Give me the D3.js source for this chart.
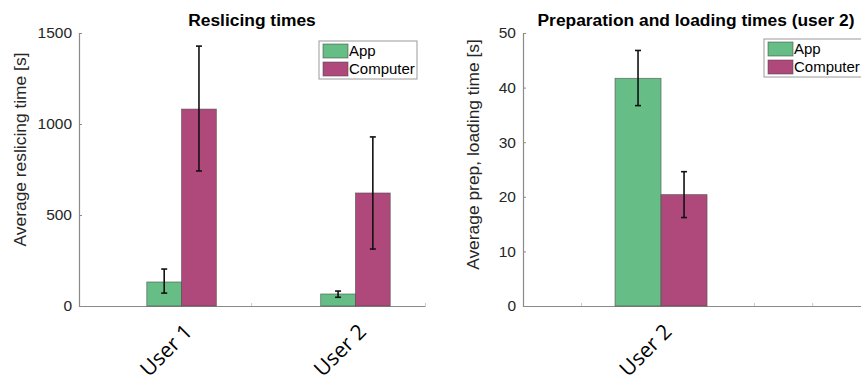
<!DOCTYPE html>
<html>
<head>
<meta charset="utf-8">
<script src="https://cdn.jsdelivr.net/npm/d3@7"></script>
<style>
  body { margin: 0; background: #fff; }
  svg { display: block; }
  .tick text { font-family: "Liberation Sans", Arial, sans-serif; }
</style>
</head>
<body>
<svg id="chart"></svg>
<script>
// left panel: reslicing times
const users = ["User 1", "User 2"];
const userPos = [1, 2];
const appReslice = [132, 66];
const appResliceLo = [71, 48];
const appResliceHi = [203, 82];
const compReslice = [1082, 621];
const compResliceLo = [742, 313];
const compResliceHi = [1428, 929];
const resliceTicks = [0, 500, 1000, 1500];

// right panel: prep and loading (user 2)
const prepUsers = ["User 2"];
const prepPos = [1];
const appPrep = [41.7];
const appPrepLo = [36.7];
const appPrepHi = [46.8];
const compPrep = [20.4];
const compPrepLo = [16.2];
const compPrepHi = [24.6];
const prepTicks = [0, 10, 20, 30, 40, 50];

const legendKeys = ["App", "Computer"];
const colors = ["#66bd86", "#b0497b"];

var svg = d3.select("#chart")
  .attr("width", 861)
  .attr("height", 382);

function drawPanel(cfg) {
  var x = d3.scaleLinear().domain(cfg.xDomain).range(cfg.xRange);
  var y = d3.scaleLinear().domain(cfg.yDomain).range([306, 33]);
  var g = svg.append("g");
  var halfW = 0.2;

  // y axis
  var yAxis = g.append("g")
    .attr("transform", `translate(${cfg.xRange[0]},0)`)
    .call(d3.axisRight(y).tickValues(cfg.yTicks).tickSize(3).tickFormat(d3.format("d")));
  yAxis.select(".domain").attr("stroke", "#8a8a8a").attr("stroke-width", 1.2);
  yAxis.selectAll(".tick line").attr("stroke", "#8a8a8a");
  yAxis.selectAll(".tick text")
    .attr("x", -7)
    .attr("text-anchor", "end")
    .attr("fill", "#262626")
    .style("font-size", "15.5px");

  // x axis (minor ticks only, labels drawn rotated)
  var xAxis = g.append("g")
    .attr("transform", "translate(0,306)")
    .call(d3.axisTop(x).tickValues(cfg.xTicks).tickSize(3).tickFormat("").tickSizeOuter(0));
  xAxis.select(".domain").attr("stroke", "#8a8a8a").attr("stroke-width", 1.2);
  xAxis.selectAll(".tick line").attr("stroke", "#c8c8c8");

  var series = [
    { vals: cfg.app, lo: cfg.appLo, hi: cfg.appHi, off: -halfW },
    { vals: cfg.comp, lo: cfg.compLo, hi: cfg.compHi, off: 0 }
  ];

  series.forEach(function(s, si) {
    g.append("g").selectAll("rect")
      .data(s.vals)
      .join("rect")
      .attr("x", (d, i) => x(cfg.pos[i] + s.off))
      .attr("width", (d, i) => x(cfg.pos[i] + s.off + halfW) - x(cfg.pos[i] + s.off))
      .attr("y", d => y(d))
      .attr("height", d => y(0) - y(d))
      .attr("fill", colors[si])
      .attr("stroke", "#4a4a4a")
      .attr("stroke-opacity", 0.7)
      .attr("stroke-width", 0.8);
  });

  series.forEach(function(s) {
    var eg = g.append("g").attr("stroke", "#111").attr("stroke-width", 1.6);
    s.vals.forEach(function(v, i) {
      var cx = x(cfg.pos[i] + s.off + halfW / 2);
      eg.append("line").attr("x1", cx).attr("x2", cx).attr("y1", y(s.lo[i])).attr("y2", y(s.hi[i]));
      eg.append("line").attr("x1", cx - 3).attr("x2", cx + 3).attr("y1", y(s.lo[i])).attr("y2", y(s.lo[i]));
      eg.append("line").attr("x1", cx - 3).attr("x2", cx + 3).attr("y1", y(s.hi[i])).attr("y2", y(s.hi[i]));
    });
  });

  // category labels
  g.append("g").selectAll("text")
    .data(cfg.cats)
    .join("text")
    .attr("transform", (d, i) => `translate(${x(cfg.pos[i]) + 12},${333}) rotate(-45)`)
    .attr("text-anchor", "end")
    .attr("font-family", "'Open Sans', sans-serif")
    .attr("font-size", 21)
    .attr("fill", "#000")
    .text(d => d);

  // title
  g.append("text")
    .attr("x", (cfg.xRange[0] + cfg.xRange[1]) / 2)
    .attr("y", 26)
    .attr("text-anchor", "middle")
    .attr("font-family", "'Liberation Sans', Arial, sans-serif")
    .attr("font-weight", "bold")
    .attr("font-size", 17.4)
    .attr("fill", "#000")
    .text(cfg.title);

  // y label
  g.append("text")
    .attr("transform", `translate(${cfg.yLabelX},${(33 + 306) / 2 - cfg.yLabelShift}) rotate(-90)`)
    .attr("text-anchor", "middle")
    .attr("font-family", "'Liberation Sans', Arial, sans-serif")
    .attr("font-size", 17.4)
    .attr("fill", "#262626")
    .text(cfg.yLabel);

  // legend
  var lg = g.append("g").attr("transform", `translate(${cfg.legendX},${cfg.legendY})`);
  lg.append("rect")
    .attr("width", 98).attr("height", 38)
    .attr("fill", "#fff")
    .attr("stroke", "#9a9a9a");
  legendKeys.forEach(function(k, i) {
    lg.append("rect")
      .attr("x", 4).attr("y", 3 + i * 18)
      .attr("width", 25).attr("height", 14)
      .attr("fill", colors[i])
      .attr("stroke", "#4a4a4a")
      .attr("stroke-opacity", 0.7)
      .attr("stroke-width", 0.8);
    lg.append("text")
      .attr("x", 30).attr("y", 15 + i * 18)
      .attr("font-family", "'Liberation Sans', Arial, sans-serif")
      .attr("font-size", 15)
      .attr("fill", "#000")
      .text(k);
  });
}

drawPanel({
  title: "Reslicing times",
  yLabel: "Average reslicing time [s]",
  yLabelX: 26, yLabelShift: 20,
  xDomain: [0.41, 2.4], xRange: [79, 425],
  xTicks: [1.4, 2.4],
  yDomain: [0, 1500], yTicks: resliceTicks,
  cats: users, pos: userPos,
  app: appReslice, appLo: appResliceLo, appHi: appResliceHi,
  comp: compReslice, compLo: compResliceLo, compHi: compResliceHi,
  legendX: 319, legendY: 41
});

drawPanel({
  title: "Preparation and loading times (user 2)",
  yLabel: "Average prep, loading time [s]",
  yLabelX: 479, yLabelShift: 15,
  xDomain: [0.4, 1.904], xRange: [523, 869],
  xTicks: [0.652, 1.404, 1.657],
  yDomain: [0, 50], yTicks: prepTicks,
  cats: prepUsers, pos: prepPos,
  app: appPrep, appLo: appPrepLo, appHi: appPrepHi,
  comp: compPrep, compLo: compPrepLo, compHi: compPrepHi,
  legendX: 764, legendY: 39
});
</script>
</body>
</html>
